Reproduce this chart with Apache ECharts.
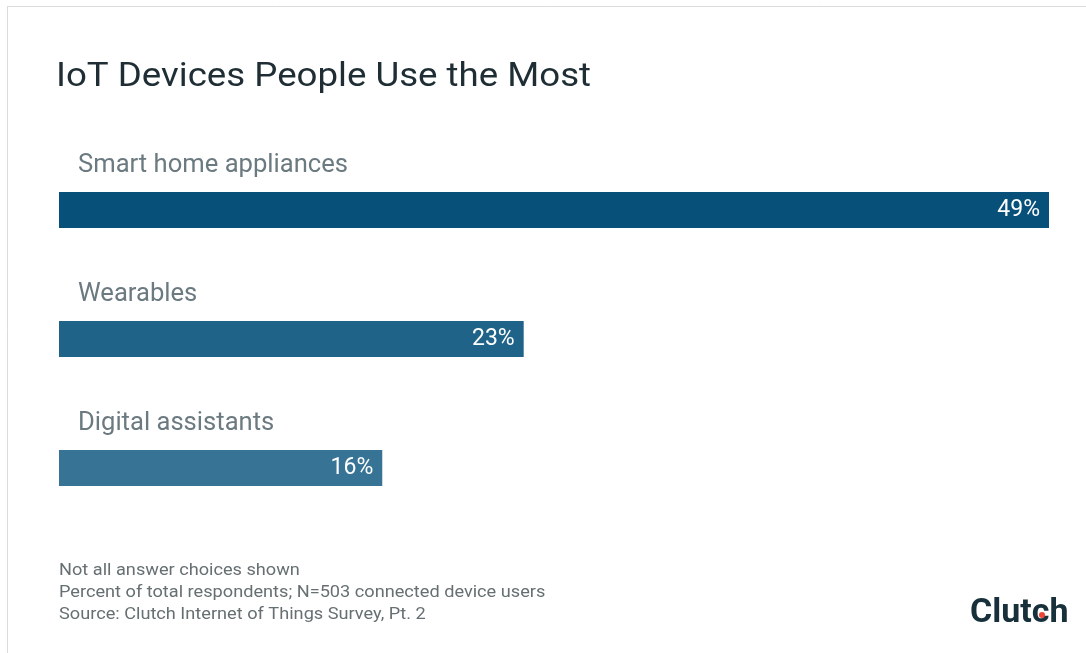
<!DOCTYPE html>
<html>
<head>
<meta charset="utf-8">
<style>
  html, body { margin: 0; padding: 0; background: #ffffff; }
  #chart { width: 1086px; height: 653px; }
</style>
<script src="https://cdn.jsdelivr.net/npm/echarts@6/dist/echarts.min.js"></script>
</head>
<body>
<div id="chart"></div>
<script>
// Survey results: share of respondents using each device type
const categories = ['Smart home appliances', 'Wearables', 'Digital assistants'];
const shares = [49, 23, 16];
const barColors = ['#07507a', '#1f6389', '#377395'];

const titleText = 'IoT Devices People Use the Most';
const footnotes = [
  'Not all answer choices shown',
  'Percent of total respondents; N=503 connected device users',
  'Source: Clutch Internet of Things Survey, Pt. 2'
];
const brand = 'Clutch';

const FONT = 'Roboto, "Noto Sans", sans-serif';
// the house typeface runs a little wider than Roboto
const WIDEN = 1.11;

const chart = echarts.init(document.getElementById('chart'), null, { renderer: 'canvas' });

chart.setOption({
  backgroundColor: '#ffffff',
  animation: false,
  grid: { left: 59, right: 37, top: 145.5, height: 387, containLabel: false },
  xAxis: { type: 'value', min: 0, max: 49, show: false },
  yAxis: {
    type: 'category',
    data: categories,
    inverse: true,
    show: false
  },
  series: [
    {
      // visible bars with the value printed at the inner right end
      type: 'bar',
      data: shares,
      barWidth: 36,
      itemStyle: { color: (p) => barColors[p.dataIndex] },
      label: {
        show: true,
        position: 'insideRight',
        distance: 9,
        formatter: '{c}%',
        fontFamily: FONT,
        fontSize: 23,
        color: '#ffffff'
      },
      z: 3
    },
    {
      // transparent twin that carries the category name above each bar
      type: 'bar',
      data: shares,
      barWidth: 36,
      barGap: '-100%',
      itemStyle: { color: 'rgba(0,0,0,0)' },
      label: {
        show: true,
        position: 'insideLeft',
        distance: 19,
        offset: [0, -44],
        formatter: '{b}',
        fontFamily: FONT,
        fontSize: 25.6,
        color: '#6b7a80'
      },
      silent: true,
      z: 2
    }
  ],
  graphic: [
    // frame edges
    { type: 'line', shape: { x1: 7, y1: 6.5, x2: 1086, y2: 6.5 }, style: { stroke: '#dcdcdc', lineWidth: 1 } },
    { type: 'line', shape: { x1: 7.5, y1: 6, x2: 7.5, y2: 653 }, style: { stroke: '#dcdcdc', lineWidth: 1 } },
    // title
    {
      type: 'text', x: 56, y: 61, scaleX: WIDEN,
      style: {
        text: titleText,
        font: '33px ' + FONT,
        fill: '#1f2e35',
        verticalAlign: 'top'
      }
    },
    // footnotes
    {
      type: 'text', x: 59, y: 560, scaleX: 1.135,
      style: {
        text: footnotes.join('\n'),
        font: '16px ' + FONT,
        lineHeight: 22,
        fill: '#666f72',
        verticalAlign: 'top'
      }
    },
    // brand mark
    {
      type: 'text', x: 970, y: 597, scaleX: 1.03,
      style: {
        text: brand,
        font: 'bold 33px ' + FONT,
        fill: '#17303a',
        verticalAlign: 'top'
      }
    },
    { type: 'circle', shape: { cx: 1042, cy: 615, r: 3 }, style: { fill: '#ef4335' } }
  ]
});
</script>
</body>
</html>
